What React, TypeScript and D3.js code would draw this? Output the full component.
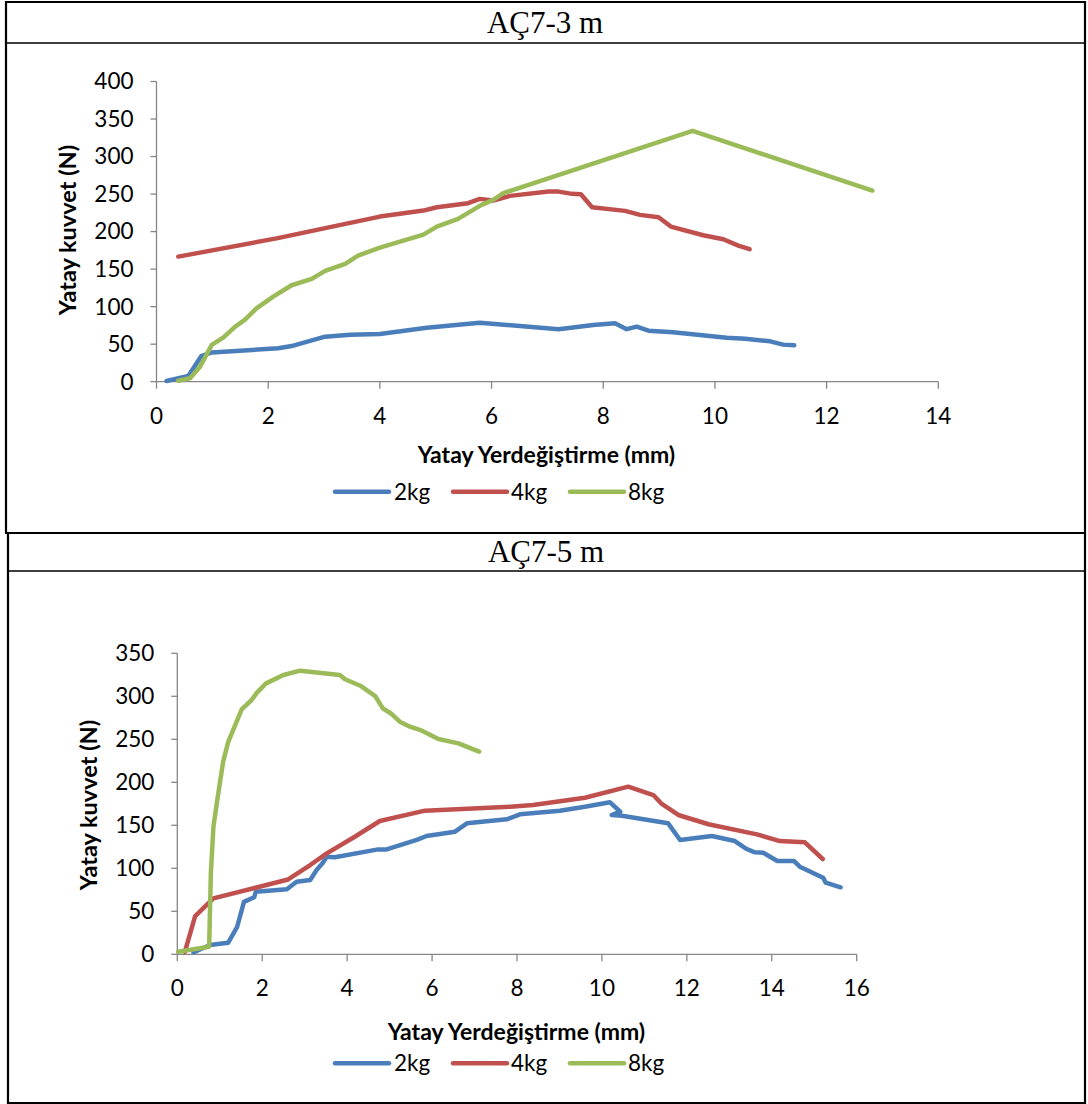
import React from "react";
import * as d3 from "d3";

// ---------- data ----------
const seriesNames = ["2kg", "4kg", "8kg"];
const seriesColors = ["#4A7EBB", "#C0504D", "#9BBB59"];

const chart1Title = "AÇ7-3 m";
const chart2Title = "AÇ7-5 m";
const xAxisTitle = "Yatay Yerdeğiştirme (mm)";
const yAxisTitle = "Yatay kuvvet (N)";

const chart1XTicks = [0, 2, 4, 6, 8, 10, 12, 14];
const chart1YTicks = [0, 50, 100, 150, 200, 250, 300, 350, 400];
const chart2XTicks = [0, 2, 4, 6, 8, 10, 12, 14, 16];
const chart2YTicks = [0, 50, 100, 150, 200, 250, 300, 350];

const c1kg2X = [0.18, 0.57, 0.8, 0.99, 2.18, 2.42, 2.78, 3.02, 3.47, 4.0, 4.84, 5.79, 7.2, 7.82, 8.21, 8.42, 8.6, 8.81, 9.25, 10.21, 10.54, 10.99, 11.22, 11.42];
const c1kg2Y = [1, 7.6, 34, 39, 44.5, 47.5, 55, 60, 62.7, 63.6, 72, 78.7, 70, 75.6, 77.8, 70, 73.3, 68, 65.8, 58.7, 57.3, 53.8, 49.4, 48.5];

const c1kg4X = [0.39, 2.15, 4.0, 4.78, 5.02, 5.58, 5.79, 6.03, 6.33, 7.02, 7.2, 7.44, 7.6, 7.8, 8.39, 8.66, 8.99, 9.21, 9.79, 10.15, 10.42, 10.62];
const c1kg4Y = [166.7, 191, 220, 228, 232.5, 237.8, 243.6, 241.3, 247.6, 253.3, 253.3, 250.3, 249.8, 232.5, 227.6, 222.3, 219.2, 206.7, 195.2, 189.8, 181.4, 176.5];

const c1kg8X = [0.39, 0.6, 0.78, 0.99, 1.2, 1.41, 1.58, 1.79, 2.09, 2.42, 2.78, 3.02, 3.38, 3.61, 4.0, 4.78, 5.02, 5.4, 5.82, 6.03, 6.21, 9.6, 12.82];
const c1kg8Y = [1.3, 4.5, 20, 49, 59, 73.3, 82.3, 97.8, 113.3, 128.5, 137, 147.6, 157, 168, 178.7, 196, 206.7, 217, 235.6, 242.3, 251.2, 334.3, 254.7];

const c2kg2X = [0.38, 0.77, 1.2, 1.41, 1.57, 1.81, 1.85, 2.58, 2.81, 3.13, 3.28, 3.42, 3.52, 3.71, 4.73, 4.93, 5.64, 5.87, 6.54, 6.82, 7.76, 8.07, 9.01, 9.6, 10.19, 10.43, 10.23, 10.47, 11.56, 11.84, 12.59, 13.13, 13.41, 13.6, 13.8, 14.13, 14.52, 14.66, 15.21, 15.27, 15.62];
const c2kg2Y = [2.3, 10.8, 13.5, 32, 61, 66.3, 72.8, 75.6, 84.4, 86.4, 98, 105.8, 113.5, 112.8, 122, 122, 133, 137.6, 142.6, 152.3, 157, 162.8, 167, 171.6, 176.7, 165.8, 162, 161.2, 152.3, 132.9, 137.6, 131.7, 122.4, 118.6, 118.1, 108.5, 108.5, 101.9, 89, 83.3, 77.9];

const c2kg4X = [0.18, 0.42, 0.85, 2.61, 3.13, 3.52, 4.18, 4.77, 5.83, 7.84, 8.38, 9.6, 10.62, 11.21, 11.41, 11.8, 12.51, 13.65, 14.19, 14.78, 15.2];
const c2kg4Y = [3, 44.5, 65, 87, 103.8, 117.4, 136.7, 155, 167, 171.6, 173.6, 182, 194.9, 185.2, 174.8, 162, 151.2, 139.5, 131.7, 130.2, 110.8];

const c2kg8X = [0.02, 0.75, 0.79, 0.85, 0.94, 1.08, 1.2, 1.52, 1.75, 1.87, 2.09, 2.5, 2.89, 3.83, 3.95, 4.31, 4.66, 4.84, 5.05, 5.24, 5.48, 5.76, 6.15, 6.62, 7.11];
const c2kg8Y = [3, 8.8, 94, 148, 179, 224, 247, 285, 295.7, 304, 315, 324.8, 329.8, 324.8, 319.8, 312.3, 300.3, 286, 279.4, 270.5, 264.7, 260, 250.3, 245.3, 235.6];

const zip = (xs: number[], ys: number[]) => xs.map((x, i) => [x, ys[i]] as [number, number]);

const FONT = "Lato, 'Open Sans', sans-serif";
const AXIS = "#868686";

type ChartProps = {
  xDomain: [number, number];
  xRange: [number, number];
  yDomain: [number, number];
  yRange: [number, number];
  xTicks: number[];
  yTicks: number[];
  series: [number, number][][];
  xTitlePos: [number, number];
  yTitlePos: [number, number];
  legendY: number;
};

function Chart(p: ChartProps) {
  const x = d3.scaleLinear().domain(p.xDomain).range(p.xRange);
  const y = d3.scaleLinear().domain(p.yDomain).range(p.yRange);
  const line = d3
    .line<[number, number]>()
    .x((d) => x(d[0]))
    .y((d) => y(d[1]));
  const x0 = p.xRange[0];
  const y0 = p.yRange[0];
  const legendItems = [
    { lx: 335, tx: 394 },
    { lx: 453, tx: 511 },
    { lx: 570, tx: 628 },
  ];
  return (
    <g>
      <line x1={x0} x2={x0} y1={p.yRange[1]} y2={y0} stroke={AXIS} strokeWidth={1.3} />
      <line x1={x0} x2={p.xRange[1]} y1={y0} y2={y0} stroke={AXIS} strokeWidth={1.3} />
      {p.yTicks.map((t) => (
        <g key={"y" + t}>
          <line x1={x0 - 6} x2={x0} y1={y(t)} y2={y(t)} stroke={AXIS} strokeWidth={1.3} />
          <text x={x0 - 23} y={y(t)} dy="0.35em" textAnchor="end" fontFamily={FONT} fontSize={22.5} fill="#000">
            {t}
          </text>
        </g>
      ))}
      {p.xTicks.map((t) => (
        <g key={"x" + t}>
          <line x1={x(t)} x2={x(t)} y1={y0} y2={y0 + 7} stroke={AXIS} strokeWidth={1.3} />
          <text x={x(t)} y={y0 + 34} dy="0.35em" textAnchor="middle" fontFamily={FONT} fontSize={22.5} fill="#000">
            {t}
          </text>
        </g>
      ))}
      {p.series.map((s, i) => (
        <path
          key={i}
          d={line(s) || ""}
          fill="none"
          stroke={seriesColors[i]}
          strokeWidth={4.5}
          strokeLinejoin="round"
          strokeLinecap="round"
        />
      ))}
      <text
        x={p.xTitlePos[0]}
        y={p.xTitlePos[1]}
        dy="0.35em"
        textAnchor="middle"
        fontFamily={FONT}
        fontWeight="bold"
        fontSize={23}
      >
        {xAxisTitle}
      </text>
      <text
        transform={`translate(${p.yTitlePos[0]},${p.yTitlePos[1]}) rotate(-90)`}
        dy="0.35em"
        textAnchor="middle"
        fontFamily={FONT}
        fontWeight="bold"
        fontSize={23.5}
      >
        {yAxisTitle}
      </text>
      {seriesNames.map((n, i) => (
        <g key={n}>
          <line
            x1={legendItems[i].lx}
            x2={legendItems[i].lx + 54}
            y1={p.legendY}
            y2={p.legendY}
            stroke={seriesColors[i]}
            strokeWidth={4.5}
            strokeLinecap="round"
          />
          <text x={legendItems[i].tx} y={p.legendY} dy="0.35em" fontFamily={FONT} fontSize={22.5}>
            {n}
          </text>
        </g>
      ))}
    </g>
  );
}

export default function App() {
  const s1 = [zip(c1kg2X, c1kg2Y), zip(c1kg4X, c1kg4Y), zip(c1kg8X, c1kg8Y)];
  const s2 = [zip(c2kg2X, c2kg2Y), zip(c2kg4X, c2kg4Y), zip(c2kg8X, c2kg8Y)];
  return (
    <svg
      width={1088}
      height={1104}
      style={{ position: "absolute", left: 0, top: 0, background: "#fff" }}
    >
      <rect x={0} y={0} width={1088} height={1104} fill="#fff" />
      <line x1={6} x2={6} y1={1} y2={533} stroke="#000" strokeWidth={2.2} />
      <line x1={8} x2={8} y1={533} y2={1104} stroke="#000" strokeWidth={2.2} />
      <line x1={1085} x2={1085} y1={1} y2={1104} stroke="#000" strokeWidth={2.2} />
      <line x1={5} x2={1086} y1={2} y2={2} stroke="#000" strokeWidth={2.2} />
      <line x1={5} x2={1086} y1={43} y2={43} stroke="#000" strokeWidth={1.6} />
      <line x1={5} x2={1086} y1={533} y2={533} stroke="#000" strokeWidth={2.2} />
      <line x1={7} x2={1086} y1={571} y2={571} stroke="#000" strokeWidth={1.6} />
      <line x1={7} x2={1086} y1={1103} y2={1103} stroke="#000" strokeWidth={2} />
      <text x={545} y={33} textAnchor="middle" fontFamily="'Liberation Serif', 'Times New Roman', serif" fontSize={31}>
        {chart1Title}
      </text>
      <text x={546} y={561.5} textAnchor="middle" fontFamily="'Liberation Serif', 'Times New Roman', serif" fontSize={31}>
        {chart2Title}
      </text>
      <Chart
        xDomain={[0, 14]}
        xRange={[156.5, 938.3]}
        yDomain={[0, 400]}
        yRange={[381.7, 81.5]}
        xTicks={chart1XTicks}
        yTicks={chart1YTicks}
        series={s1}
        xTitlePos={[546.5, 455]}
        yTitlePos={[68, 230]}
        legendY={491.7}
      />
      <Chart
        xDomain={[0, 16]}
        xRange={[177.3, 856.7]}
        yDomain={[0, 350]}
        yRange={[954.3, 653.3]}
        xTicks={chart2XTicks}
        yTicks={chart2YTicks}
        series={s2}
        xTitlePos={[516.5, 1031.7]}
        yTitlePos={[89, 805]}
        legendY={1063.3}
      />
    </svg>
  );
}
